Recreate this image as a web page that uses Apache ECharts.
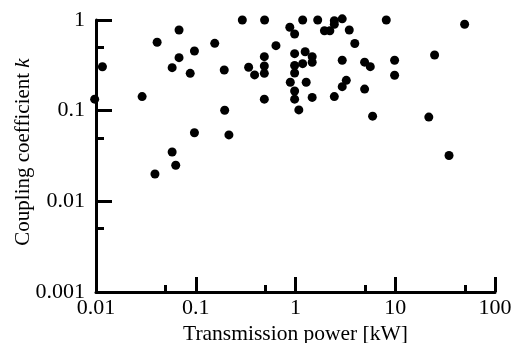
<!DOCTYPE html>
<html>
<head>
<meta charset="utf-8">
<script src="https://cdn.jsdelivr.net/npm/echarts@6/dist/echarts.min.js"></script>
<style>
  html, body { margin: 0; background: #fff; }
  #chart { width: 512px; height: 343px; }
</style>
</head>
<body>
<div id="chart"></div>
<script>
// transmission power [kW] and coupling coefficient k
const powerKW = [
  0.0097, 0.0116, 0.029, 0.041, 0.039, 0.058, 0.063, 0.068, 0.058, 0.068,
  0.088, 0.097, 0.097, 0.155, 0.193, 0.195, 0.215, 0.293, 0.339, 0.389,
  0.49, 0.487, 0.487, 0.487, 0.487, 0.637, 0.877, 0.98, 0.98, 0.98,
  0.98, 0.887, 0.98, 0.98, 1.08, 1.18, 1.25, 1.18, 1.47, 1.47,
  1.28, 1.47, 1.67, 1.95, 2.21, 2.45, 2.45, 2.94, 3.46, 3.93,
  2.94, 3.23, 2.94, 2.45, 4.93, 5.62, 4.93, 5.93, 8.13, 9.85,
  9.85, 21.7, 24.8, 34.6, 49.6
];
const couplingK = [
  0.134, 0.305, 0.143, 0.568, 0.020, 0.035, 0.025, 0.776, 0.298, 0.384,
  0.258, 0.455, 0.057, 0.553, 0.281, 0.101, 0.054, 1.0, 0.301, 0.248,
  1.0, 0.394, 0.311, 0.258, 0.134, 0.521, 0.831, 0.701, 0.425, 0.315,
  0.26, 0.206, 0.165, 0.134, 0.102, 1.0, 0.446, 0.33, 0.394, 0.342,
  0.206, 0.14, 1.0, 0.762, 0.762, 0.982, 0.897, 1.03, 0.776, 0.551,
  0.36, 0.216, 0.184, 0.143, 0.343, 0.306, 0.173, 0.087, 1.0, 0.36,
  0.246, 0.085, 0.411, 0.032, 0.897
];

const xRange = [0.01, 100];
const yRange = [0.001, 1];
const xTickLabels = ['0.01', '0.1', '1', '10', '100'];
const yTickLabels = ['0.001', '0.01', '0.1', '1'];
const xMinorTicks = [0.05, 0.5, 5, 50];
const yMinorTicks = [0.005, 0.05, 0.5];

const FONT = '"Liberation Serif", "DejaVu Serif", serif';

const chart = echarts.init(document.getElementById('chart'), null, { renderer: 'canvas' });

const axisLineStyle = { color: '#000', width: 3 };

chart.setOption({
  animation: false,
  backgroundColor: '#fff',
  grid: { left: 96, right: 17, top: 20, bottom: 51, outerBoundsMode: 'none' },
  xAxis: [
    {
      type: 'log',
      logBase: 10,
      min: xRange[0],
      max: xRange[1],
      name: 'Transmission power [kW]',
      nameLocation: 'middle',
      nameGap: 31,
      nameMoveOverlap: false,
      nameTextStyle: { fontFamily: FONT, fontSize: 21.5, color: '#000', verticalAlign: 'top' },
      axisLine: { onZero: false, lineStyle: axisLineStyle },
      axisTick: { inside: true, length: 15, lineStyle: axisLineStyle },
      axisLabel: {
        margin: 5,
        fontFamily: FONT,
        fontSize: 22,
        color: '#000',
        formatter: (v, i) => xTickLabels[i] ?? String(v)
      },
      splitLine: { show: false }
    },
    {
      // minor ticks at 5x each decade
      type: 'value',
      min: Math.log10(xRange[0]),
      max: Math.log10(xRange[1]),
      position: 'bottom',
      axisLine: { show: false, onZero: false },
      axisLabel: { show: false },
      splitLine: { show: false },
      axisTick: {
        inside: true,
        length: 7,
        lineStyle: axisLineStyle,
        customValues: xMinorTicks.map(Math.log10)
      }
    }
  ],
  yAxis: [
    {
      type: 'log',
      logBase: 10,
      min: yRange[0],
      max: yRange[1],
      name: 'Coupling coefficient {i|k}',
      nameLocation: 'middle',
      nameRotate: 90,
      nameGap: 62,
      nameMoveOverlap: false,
      nameTextStyle: {
        fontFamily: FONT,
        fontSize: 21,
        color: '#000',
        padding: [0, 0, 0, 8],
        rich: { i: { fontFamily: FONT, fontSize: 21, fontStyle: 'italic', color: '#000' } }
      },
      axisLine: { onZero: false, lineStyle: axisLineStyle },
      axisTick: { inside: true, length: 16, lineStyle: axisLineStyle },
      axisLabel: {
        margin: 11,
        fontFamily: FONT,
        fontSize: 22,
        color: '#000',
        formatter: (v, i) => yTickLabels[i] ?? String(v)
      },
      splitLine: { show: false }
    },
    {
      type: 'value',
      min: Math.log10(yRange[0]),
      max: Math.log10(yRange[1]),
      position: 'left',
      axisLine: { show: false, onZero: false },
      axisLabel: { show: false },
      splitLine: { show: false },
      axisTick: {
        inside: true,
        length: 8,
        lineStyle: axisLineStyle,
        customValues: yMinorTicks.map(Math.log10)
      }
    }
  ],
  series: [
    {
      type: 'scatter',
      xAxisIndex: 0,
      yAxisIndex: 0,
      clip: false,
      symbol: 'circle',
      symbolSize: 9,
      itemStyle: { color: '#000', opacity: 1 },
      data: powerKW.map((p, i) => [p, couplingK[i]])
    }
  ]
});
</script>
</body>
</html>
